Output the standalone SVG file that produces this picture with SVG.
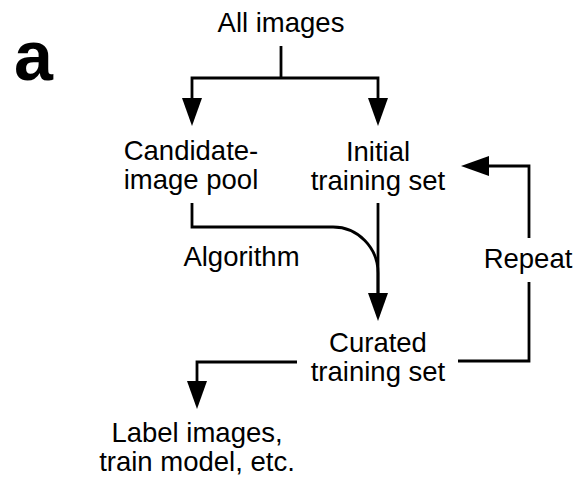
<svg xmlns="http://www.w3.org/2000/svg" width="578" height="483" viewBox="0 0 578 483">
  <style>
    .lbl { font-family: "Liberation Sans", Arial, Helvetica, sans-serif; font-size: 27.5px; fill: #000; text-anchor: middle; }
    .panel { font-family: "Liberation Sans", Arial, Helvetica, sans-serif; font-size: 70px; font-weight: bold; fill: #000; }
    .wire { fill: none; stroke: #000; stroke-width: 2.8; stroke-linejoin: miter; }
  </style>
  <defs>
    <!-- filled triangular head; its base sits at the path end and it points forward -->
    <marker id="head" markerUnits="userSpaceOnUse" viewBox="0 0 28 20" refX="0" refY="10" markerWidth="28" markerHeight="20" orient="auto" overflow="visible">
      <path d="M0,0 L28,10 L0,20 Z" fill="#000"/>
    </marker>
  </defs>
  <rect width="578" height="483" fill="#fff"/>

  <text class="panel" x="14" y="80">a</text>

  <g id="connectors">
    <path class="wire" d="M281,46 V78"/>
    <path class="wire" d="M281,78 H192 V98" marker-end="url(#head)"/>
    <path class="wire" d="M281,78 H378 V98" marker-end="url(#head)"/>
    <path class="wire" d="M192,203 V227 H333 A45,46 0 0 1 378,273 V293" marker-end="url(#head)"/>
    <path class="wire" d="M378,203 V293"/>
    <path class="wire" d="M297,362 H197 V381" marker-end="url(#head)"/>
    <path class="wire" d="M458,361 H529 V282"/>
    <path class="wire" d="M529,238 V166 H489" marker-end="url(#head)"/>
  </g>

  <g id="all-images">
    <text class="lbl" x="281" y="32">All images</text>
  </g>
  <g id="candidate-pool">
    <text class="lbl" x="191" y="160">Candidate-</text>
    <text class="lbl" x="191" y="189">image pool</text>
  </g>
  <g id="initial-set">
    <text class="lbl" x="378" y="161">Initial</text>
    <text class="lbl" x="378" y="190">training set</text>
  </g>
  <g id="algorithm">
    <text class="lbl" x="241.5" y="266">Algorithm</text>
  </g>
  <g id="repeat">
    <text class="lbl" x="528" y="268">Repeat</text>
  </g>
  <g id="curated-set">
    <text class="lbl" x="378" y="352">Curated</text>
    <text class="lbl" x="378" y="381">training set</text>
  </g>
  <g id="downstream">
    <text class="lbl" x="197" y="442">Label images,</text>
    <text class="lbl" x="197" y="471">train model, etc.</text>
  </g>
</svg>
